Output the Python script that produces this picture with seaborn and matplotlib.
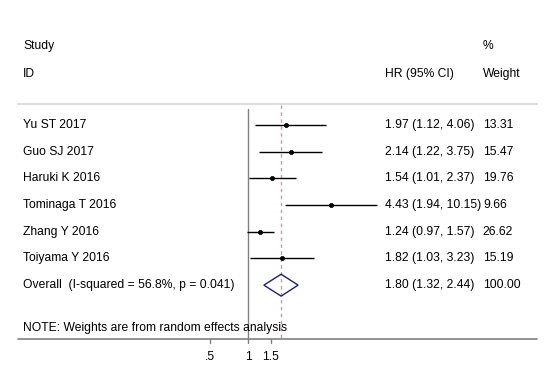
import numpy as np
import pandas as pd
import matplotlib
matplotlib.use("Agg")
import matplotlib.pyplot as plt
import matplotlib.transforms as mtransforms
import seaborn as sns

sns.set_theme(style="white")
plt.rcParams['font.family'] = ['Liberation Sans', 'DejaVu Sans']
plt.rcParams['text.color'] = 'black'

# Data
studies = ["Yu ST 2017", "Guo SJ 2017", "Haruki K 2016", "Tominaga T 2016",
           "Zhang Y 2016", "Toiyama Y 2016"]
hr = [1.97, 2.14, 1.54, 4.43, 1.24, 1.82]
lower = [1.12, 1.22, 1.01, 1.94, 0.97, 1.03]
upper = [4.06, 3.75, 2.37, 10.15, 1.57, 3.23]
weights = ["13.31", "15.47", "19.76", "9.66", "26.62", "15.19"]
overall_label = "Overall  (I-squared = 56.8%, p = 0.041)"
overall = [1.80, 1.32, 2.44]
overall_weight = "100.00"
xticks = [0.5, 1, 1.5]
xtick_labels = [".5", "1", "1.5"]

df = pd.DataFrame({"study": studies, "hr": hr, "lo": lower, "hi": upper,
                   "row": np.arange(len(studies))})

fig = plt.figure(figsize=(5.5, 3.81), dpi=100)
ax = fig.add_axes([0, 0, 1, 1])
ax.set_xscale("log")
ax.set_xlim(0.01157, 224.7)
ax.set_ylim(9.59, -4.68)
ax.axis("off")

fs = 8.7
tr = mtransforms.blended_transform_factory(ax.transAxes, ax.transData)

# header
ax.text(0.042, -2.96, "Study", transform=tr, fontsize=fs, va="center")
ax.text(0.042, -1.89, "ID", transform=tr, fontsize=fs, va="center")
ax.text(0.70, -1.89, "HR (95% CI)", transform=tr, fontsize=fs, va="center")
ax.text(0.878, -2.96, "%", transform=tr, fontsize=fs, va="center")
ax.text(0.878, -1.89, "Weight", transform=tr, fontsize=fs, va="center")
ax.plot([0.032, 0.976], [-0.79, -0.79], transform=tr, color="#dddddd", lw=1.5)

# reference lines
y_axis = 8.01
ax.plot([1, 1], [-0.6, y_axis], color="#808080", lw=1.0)
ax.plot([overall[0], overall[0]], [-0.75, y_axis], color="#d09a9a",
        lw=1.0, ls=(0, (2.5, 2.5)))

# studies
ax.hlines(df["row"], df["lo"], df["hi"], color="black", lw=1.0)
sns.scatterplot(data=df, x="hr", y="row", ax=ax, color="black", marker="o",
                s=9, edgecolor="black", linewidth=0.5, legend=False, zorder=3)
for i, r in df.iterrows():
    ax.text(0.042, r["row"], r["study"], transform=tr, fontsize=fs, va="center")
    ax.text(0.70, r["row"], f"{r['hr']:.2f} ({r['lo']:.2f}, {r['hi']:.2f})",
            transform=tr, fontsize=fs, va="center")
    ax.text(0.878, r["row"], weights[i], transform=tr, fontsize=fs, va="center")

# overall
oy = len(studies)
h = 0.41
ax.fill([overall[1], overall[0], overall[2], overall[0]],
        [oy, oy - h, oy, oy + h], facecolor="none", edgecolor="#1f1f78", lw=1.0,
        zorder=4)
ax.text(0.042, oy, overall_label, transform=tr, fontsize=fs, va="center")
ax.text(0.70, oy, f"{overall[0]:.2f} ({overall[1]:.2f}, {overall[2]:.2f})",
        transform=tr, fontsize=fs, va="center")
ax.text(0.878, oy, overall_weight, transform=tr, fontsize=fs, va="center")

ax.text(0.042, 7.6, "NOTE: Weights are from random effects analysis",
        transform=tr, fontsize=fs, va="center")

# x axis
ax.plot([0.032, 0.976], [y_axis, y_axis], transform=tr, color="#808080", lw=1.2)
for t, lab in zip(xticks, xtick_labels):
    ax.plot([t, t], [y_axis, y_axis + 0.16], color="#808080", lw=1.0)
    ax.text(t, 8.69, lab, fontsize=fs, ha="center", va="center")

fig.savefig("out.png", dpi=100)
